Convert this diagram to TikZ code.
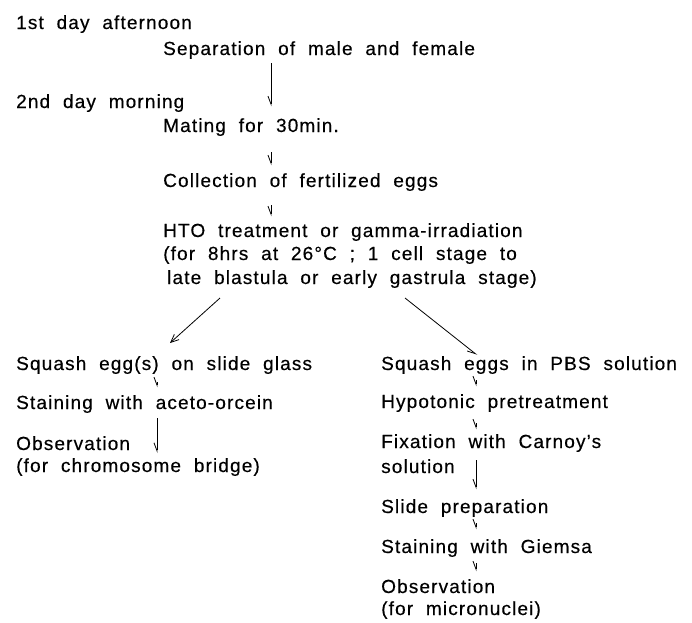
\documentclass[tikz,border=0pt]{standalone}
\usepackage{fontspec}
\setmainfont{Liberation Sans}[LetterSpace=6, WordSpace=2, FakeBold=0.4]
\usetikzlibrary{arrows.meta}

\begin{document}
\begin{tikzpicture}[x=1pt, y=-1pt,
    txt/.style={anchor=base west, inner sep=0pt, font=\fontsize{19}{23}\selectfont},
    flow/.style={line width=0.8pt, -{Straight Barb[harpoon, swap, length=8pt, width=6pt]}},
    fork/.style={line width=0.8pt, -{Straight Barb[length=8pt, width=7pt]}}]
  \useasboundingbox (0,0) rectangle (692,622);

  % Arrow columns
  \coordinate (cm) at (271,0);
  \coordinate (cl) at (157,0);
  \coordinate (cr) at (476,0);

  % Time labels
  \node[txt] (day1) at (16,29)  {1st day afternoon};
  \node[txt] (day2) at (16,108) {2nd day morning};

  % Main column
  \node[txt] (sep)  at (163,55)  {Separation of male and female};
  \node[txt] (mat)  at (163,132) {Mating for 30min.};
  \node[txt] (col)  at (163,187) {Collection of fertilized eggs};
  \node[txt] (hto1) at (163,237) {HTO treatment or gamma-irradiation};
  \node[txt] (hto2) at (163,260) {(for 8hrs at 26°C ; 1 cell stage to};
  \node[txt] (hto3) at (167,284) {late blastula or early gastrula stage)};

  % Left branch
  \node[txt] (lsq)  at (16,370) {Squash egg(s) on slide glass};
  \node[txt] (lst)  at (16,409) {Staining with aceto-orcein};
  \node[txt] (lobs) at (16,450) {Observation};
  \node[txt] (lbr)  at (16,472) {(for chromosome bridge)};

  % Right branch
  \node[txt] (rsq)  at (381,370) {Squash eggs in PBS solution};
  \node[txt] (rhy)  at (381,408) {Hypotonic pretreatment};
  \node[txt] (rfx)  at (381,448) {Fixation with Carnoy's};
  \node[txt] (rfx2) at (381,473) {solution};
  \node[txt] (rsl)  at (381,513) {Slide preparation};
  \node[txt] (rgi)  at (381,553) {Staining with Giemsa};
  \node[txt] (rob)  at (381,593) {Observation};
  \node[txt] (rmn)  at (381,615) {(for micronuclei)};

  % Main steps
  \draw[flow, shorten <=4pt, shorten >=11.7pt] (sep.south -| cm) -- (mat.north -| cm);
  \draw[flow, shorten <=16pt, shorten >=7.7pt] (mat.south -| cm) -- (col.north -| cm);
  \draw[flow, shorten <=14pt, shorten >=6.7pt] (col.south -| cm) -- (hto1.north -| cm);

  % Split into two
  \draw[fork] ([xshift=53pt, yshift=-14pt]hto3.base west) -- ([xshift=154pt, yshift=27pt]lsq.base west);
  \draw[flow] ([xshift=238pt, yshift=-14pt]hto3.base west) -- ([xshift=96pt, yshift=15pt]rsq.base west);

  % Left steps
  \draw[flow, shorten <=8pt, shorten >=7.7pt] (lsq.south -| cl) -- (lst.north -| cl);
  \draw[flow, shorten <=5pt, shorten >=-3pt] (lst.south -| cl) -- (lobs.base -| cl);

  % Right steps
  \draw[flow, shorten <=6pt, shorten >=7.7pt] (rsq.south -| cr) -- (rhy.north -| cr);
  \draw[flow, shorten <=11pt, shorten >=4.7pt] (rhy.south -| cr) -- (rfx.north -| cr);
  \draw[flow, shorten <=8pt, shorten >=9.7pt] (rfx.south -| cr) -- (rsl.north -| cr);
  \draw[flow, shorten <=6pt, shorten >=9.7pt] (rsl.south -| cr) -- (rgi.north -| cr);
  \draw[flow, shorten <=6pt, shorten >=7.7pt] (rgi.south -| cr) -- (rob.north -| cr);
\end{tikzpicture}
\end{document}
